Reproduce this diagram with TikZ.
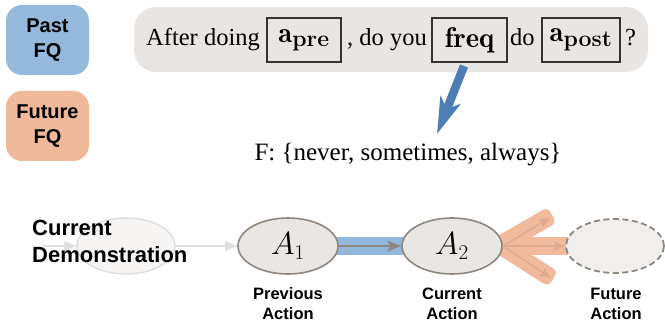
\RequirePackage{fix-cm}
\documentclass[tikz,border=0pt]{standalone}
\usepackage{fontspec}
\newfontfamily\timesf{Liberation Serif}
\newfontfamily\helv{Liberation Sans}
\usetikzlibrary{arrows.meta,calc,shapes.geometric}
\DeclareMathSizes{32}{32}{21}{15}
\newcommand{\subbf}[1]{\hbox{\fontsize{23}{25}\selectfont\bfseries #1}}
\definecolor{pastblue}{HTML}{95B9DD}
\definecolor{futorange}{HTML}{F0B99A}
\definecolor{qgray}{HTML}{E8E5E2}
\definecolor{arrowblue}{HTML}{4C7DB3}
\definecolor{bandblue}{HTML}{93B7DC}
\definecolor{bandorange}{HTML}{F1BA9C}
\definecolor{innerorange}{HTML}{DCAA8E}
\definecolor{actfill}{HTML}{E9E6E3}
\definecolor{edgegray}{HTML}{8E877F}
\definecolor{futfill}{HTML}{F1EFED}
\definecolor{faintline}{HTML}{DFDFDF}
\definecolor{faintfill}{HTML}{F6F5F4}
\definecolor{boxedge}{HTML}{333333}
\begin{document}
\begin{tikzpicture}[x=1pt,y=-1pt,
  fq/.style={rounded corners=16pt, minimum width=83pt, minimum height=70pt, inner sep=0pt,
    align=center, font=\helv\bfseries\fontsize{20}{25}\selectfont},
  sent/.style={anchor=base west, inner sep=0pt, font=\timesf\fontsize{24.5}{29}\selectfont},
  mbox/.style={draw=boxedge, line width=1.8pt, minimum height=44pt, inner sep=0pt,
    font=\fontsize{28.5}{32}\selectfont},
  act/.style={ellipse, draw=edgegray, fill=actfill, line width=1.6pt, minimum width=100pt,
    minimum height=56pt, inner sep=0pt, font=\fontsize{32}{38}\selectfont},
  lbl/.style={anchor=base, align=center, inner sep=0pt, font=\helv\bfseries\fontsize{16.5}{20}\selectfont},
  farrow/.style={draw=faintline, line width=1.5pt, -{Triangle[width=10pt,length=12pt]}},
  garrow/.style={draw=edgegray, line width=2pt, -{Stealth[width=11pt,length=14pt,inset=3pt]}},
  oarrow/.style={draw=innerorange, line width=1.4pt, -{Stealth[width=9pt,length=11pt,inset=2pt]}},
  band/.style={line width=18pt}
]
\useasboundingbox (0,0) rectangle (665,323);

% left legend boxes
\node[fq, fill=pastblue] (past) at (47.5,40) {Past\\FQ};
\node[fq, fill=futorange] (future) at (47.5,126) {Future\\FQ};

% question
\node[fill=qgray, rounded corners=22pt, minimum width=514pt, minimum height=65pt, inner sep=0pt] (q) at (391,39.5) {};
\node[sent] (s1) at (146,46) {After doing};
\node[mbox, minimum width=74pt] (apre) at (304,40) {$\mathbf{a}_{\subbf{pre}}$};
\node[sent] (s2) at (347,46) {, do you};
\node[mbox, minimum width=75pt] (freq) at (469.5,40) {$\mathbf{freq}$};
\node[sent] (s3) at (510,46) {do};
\node[mbox, minimum width=78pt] (apost) at (581,40) {$\mathbf{a}_{\subbf{post}}$};
\node[sent] (s4) at (625,46) {?};

% answer set
\node[anchor=base, inner sep=0pt, font=\timesf\fontsize{25}{29}\selectfont] (F) at (408,161) {F: \{never, sometimes, always\}};
\coordinate (bs) at (464,66);
\coordinate (be) at (437,134);
\draw[line width=8.5pt, draw=arrowblue, -{Stealth[width=21pt,length=36pt,inset=9pt]}] (bs) -- (be);

% bottom sequence
\coordinate (cd0) at (126,246);
\coordinate (c1) at (288,246);
\coordinate (c2) at (452,246);
\coordinate (cf) at (615,246);
\coordinate (o) at (500,245);
\coordinate (u) at (552,215);
\coordinate (l) at (553,279);

\draw[band, draw=bandblue] (c1) -- (c2);
\draw[band, draw=bandorange] (c2) -- (cf);
\fill[bandorange, rounded corners=5pt] ($(o)!9pt!90:(u)$) -- ($(u)!9pt!-90:(o)$) -- ($(u)!9pt!90:(o)$) -- ($(o)!9pt!-90:(u)$) -- cycle;
\fill[bandorange, rounded corners=5pt] ($(o)!9pt!90:(l)$) -- ($(l)!9pt!-90:(o)$) -- ($(l)!9pt!90:(o)$) -- ($(o)!9pt!-90:(l)$) -- cycle;

\node[ellipse, draw=faintline, fill=faintfill, line width=1.5pt, minimum width=98pt, minimum height=56pt] (cd) at (cd0) {};
\coordinate (in) at (43,246);
\draw[farrow] (in) -- (cd);

\node[act] (a1) at (c1) {$A_1$};
\node[act] (a2) at (c2) {$A_2$};
\node[ellipse, draw=edgegray, fill=futfill, line width=1.8pt, dash pattern=on 6pt off 3.5pt,
  minimum width=98pt, minimum height=54pt, inner sep=0pt] (fut) at (cf) {};

\draw[farrow] (cd) -- (a1);
\draw[garrow] (a1) -- (a2);

\coordinate (ue) at (550,218);
\coordinate (le) at (551,278);
\draw[oarrow] (a2.east) -- (ue);
\draw[oarrow] (a2.east) -- (fut.west);
\draw[oarrow] (a2.east) -- (le);

\node[anchor=base west, align=left, inner sep=0pt, font=\helv\bfseries\fontsize{22}{27}\selectfont] (cdt) at (32,263) {Current\\Demonstration};

\node[lbl] (l1) at (288,320) {Previous\\Action};
\node[lbl] (l2) at (452,320) {Current\\Action};
\node[lbl] (l3) at (616,320) {Future\\Action};
\end{tikzpicture}
\end{document}
